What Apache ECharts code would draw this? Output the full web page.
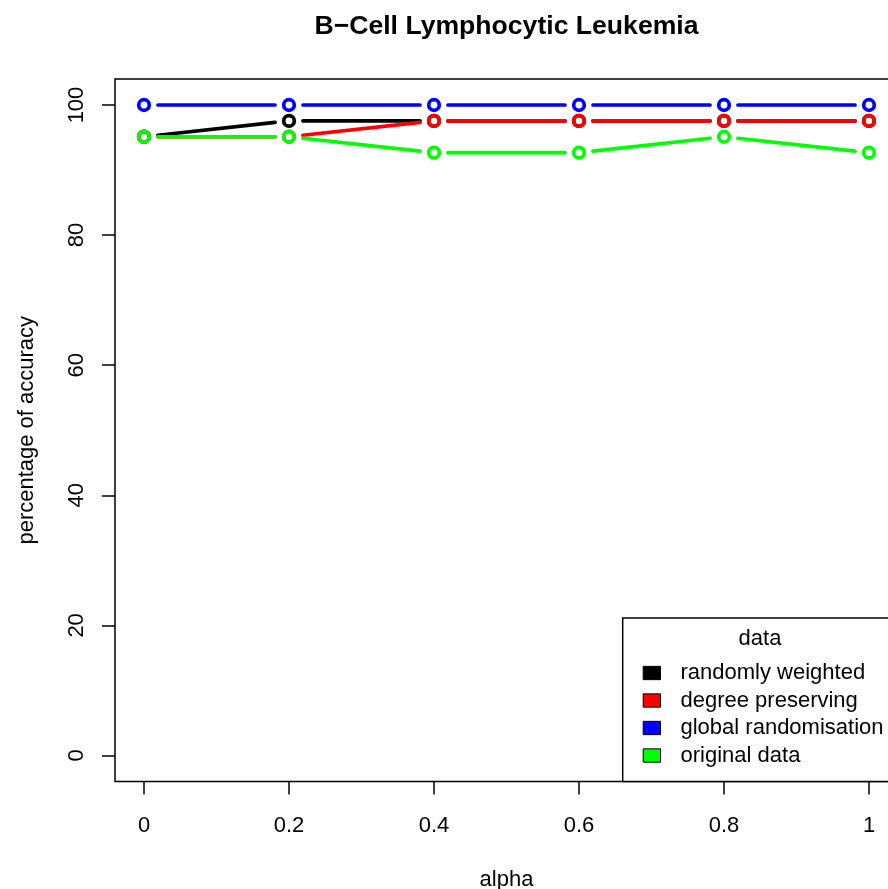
<!DOCTYPE html>
<html>
<head>
<meta charset="utf-8">
<script src="https://cdn.jsdelivr.net/npm/echarts@6/dist/echarts.min.js"></script>
<style>html,body{margin:0;padding:0;background:#fff}#chart{width:888px;height:889px}</style>
</head>
<body>
<div id="chart"></div>
<script>
// ---- data ----
const alpha = [0, 0.2, 0.4, 0.6, 0.8, 1];
const randomlyWeighted = [95.12, 97.56, 97.56, 97.56, 97.56, 97.56];
const degreePreserving = [95.12, 95.12, 97.56, 97.56, 97.56, 97.56];
const globalRandomisation = [100, 100, 100, 100, 100, 100];
const originalData = [95.12, 95.12, 92.68, 92.68, 95.12, 92.68];
const seriesNames = ['randomly weighted', 'degree preserving', 'global randomisation', 'original data'];
const seriesColors = ['#000000', '#FF0000', '#0000FF', '#00FF00'];
const xTicks = [0, 0.2, 0.4, 0.6, 0.8, 1];
const yTicks = [0, 20, 40, 60, 80, 100];
const titleText = 'B\u2212Cell Lymphocytic Leukemia';
const xName = 'alpha';
const yName = 'percentage of accuracy';
const legendTitle = 'data';

const FONT = '"Liberation Sans", Arial, Helvetica, sans-serif';
const LW = 3.7, GAP = 14, SYM = 10.6;
const allValues = [randomlyWeighted, degreePreserving, globalRandomisation, originalData];

const series = [];
allValues.forEach((vals, i) => {
  const color = seriesColors[i];
  const segs = [];
  for (let k = 0; k < alpha.length - 1; k++) segs.push([alpha[k], vals[k], alpha[k + 1], vals[k + 1]]);
  series.push({
    type: 'custom', name: seriesNames[i], z: 3 + i, silent: true,
    data: segs, encode: { x: [0, 2], y: [1, 3] },
    renderItem: function (params, api) {
      const p0 = api.coord([api.value(0), api.value(1)]);
      const p1 = api.coord([api.value(2), api.value(3)]);
      const dx = p1[0] - p0[0], dy = p1[1] - p0[1];
      const len = Math.hypot(dx, dy);
      if (len <= 2 * GAP) return null;
      const ux = dx / len, uy = dy / len;
      return {
        type: 'line',
        shape: { x1: p0[0] + ux * GAP, y1: p0[1] + uy * GAP, x2: p1[0] - ux * GAP, y2: p1[1] - uy * GAP },
        style: { stroke: color, lineWidth: LW, lineCap: 'round' }
      };
    }
  });
  series.push({
    type: 'scatter', name: seriesNames[i], z: 3 + i, silent: true,
    symbol: 'circle', symbolSize: SYM,
    data: alpha.map((a, k) => [a, vals[k]]),
    itemStyle: { color: 'rgba(0,0,0,0)', borderColor: color, borderWidth: LW, opacity: 1 },
    emphasis: { disabled: true }
  });
});

const chart = echarts.init(document.getElementById('chart'), null, { renderer: 'canvas' });
chart.setOption({
  animation: false,
  backgroundColor: '#fff',
  textStyle: { fontFamily: FONT },
  grid: { left: 115, top: 79, width: 783, height: 702.5, show: true, borderColor: '#000', borderWidth: 1.5, backgroundColor: 'transparent', containLabel: false, outerBoundsMode: 'none' },
  xAxis: {
    type: 'value', min: -0.04, max: 1.04,
    name: xName, nameLocation: 'middle', nameGap: 87,
    nameTextStyle: { fontSize: 22, color: '#000', fontFamily: FONT },
    axisLine: { show: false, onZero: false },
    axisTick: { show: true, inside: false, length: 13, customValues: xTicks, lineStyle: { color: '#000', width: 1.5 } },
    axisLabel: { customValues: xTicks, formatter: v => String(v), fontSize: 22, color: '#000', margin: 33.5, fontFamily: FONT },
    splitLine: { show: false }
  },
  yAxis: {
    type: 'value', min: -4, max: 104,
    name: yName, nameLocation: 'middle', nameGap: 77, nameRotate: 90,
    nameTextStyle: { fontSize: 22, color: '#000', fontFamily: FONT },
    axisLine: { show: false, onZero: false },
    axisTick: { show: true, inside: false, length: 13, customValues: yTicks, lineStyle: { color: '#000', width: 1.5 } },
    axisLabel: { customValues: yTicks, formatter: v => String(v), rotate: 90, fontSize: 22, color: '#000', margin: 27, fontFamily: FONT },
    splitLine: { show: false }
  },
  legend: {
    orient: 'vertical', left: 642.7, top: 662, padding: 0,
    selectedMode: false,
    itemWidth: 17.3, itemHeight: 13.3, itemGap: 5.5,
    textStyle: { fontSize: 22, lineHeight: 22, color: '#000', padding: [0, 0, 0, 15], fontFamily: FONT },
    data: seriesNames.map((n, i) => ({ name: n, icon: 'rect', itemStyle: { color: seriesColors[i], borderColor: '#000', borderWidth: 1 } }))
  },
  graphic: [
    { type: 'rect', z: 1, shape: { x: 622.7, y: 618, width: 320, height: 163.5 }, style: { fill: '#fff', stroke: '#000', lineWidth: 1.5 } },
    { type: 'text', z: 2, x: 760, y: 639, style: { text: legendTitle, fontSize: 22, fill: '#000', textAlign: 'center', textVerticalAlign: 'middle', fontFamily: FONT } },
    { type: 'text', z: 2, x: 506.5, y: 27, style: { text: titleText, fontSize: 26.6, fontWeight: 'bold', fill: '#000', textAlign: 'center', textVerticalAlign: 'middle', fontFamily: FONT } }
  ],
  series: series
});
</script>
</body>
</html>
